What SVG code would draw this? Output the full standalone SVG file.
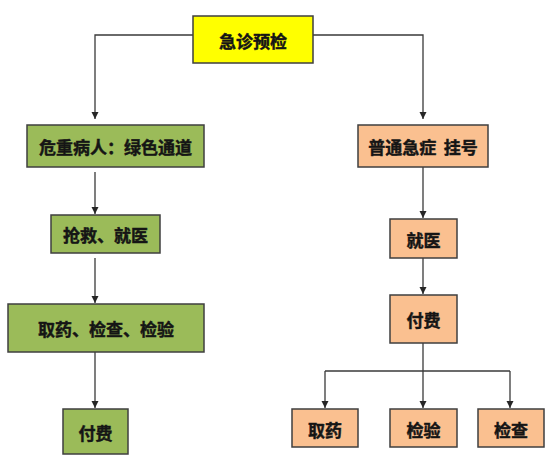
<svg xmlns="http://www.w3.org/2000/svg" width="550" height="464" viewBox="0 0 550 464">
<defs>
<marker id="arr" markerWidth="8" markerHeight="8" refX="7" refY="4" orient="auto" markerUnits="userSpaceOnUse">
<path d="M0,0.5 L7,4 L0,7.5 Z" fill="#262626"/>
</marker>
<style>
.box{stroke:#3f3f3f;stroke-width:1.5}
.y{fill:#ffff00}
.g{fill:#9bbb59}
.o{fill:#fac090}
.t{font-family:"Noto Sans CJK SC","Noto Sans CJK TC",sans-serif;font-weight:bold;font-size:17px;fill:#151515;stroke:#151515;stroke-width:0.45;text-anchor:middle;dominant-baseline:central}
.c{fill:none;stroke:#3a3a3a;stroke-width:1.3}
</style>
</defs>
<rect width="550" height="464" fill="#ffffff"/>
<g id="connectors">
<path class="c" d="M193,35 H95 V119" marker-end="url(#arr)"/>
<path class="c" d="M313,35 H423 V119" marker-end="url(#arr)"/>
<path class="c" d="M95,172 V214" marker-end="url(#arr)"/>
<path class="c" d="M95,258 V303" marker-end="url(#arr)"/>
<path class="c" d="M95,352 V408" marker-end="url(#arr)"/>
<path class="c" d="M423,167 V218" marker-end="url(#arr)"/>
<path class="c" d="M423,258 V294" marker-end="url(#arr)"/>
<path class="c" d="M423,343 V408" marker-end="url(#arr)"/>
<path class="c" d="M325,371 H510"/>
<path class="c" d="M325,371 V408" marker-end="url(#arr)"/>
<path class="c" d="M510,371 V408" marker-end="url(#arr)"/>
</g>
<g id="n-triage">
<rect class="box y" x="193" y="16" width="120" height="47"/>
<text class="t" x="253" y="40">急诊预检</text>
</g>
<g id="n-critical">
<rect class="box g" x="27" y="125" width="177" height="42"/>
<text class="t" x="115.5" y="146">危重病人：绿色通道</text>
</g>
<g id="n-rescue">
<rect class="box g" x="51" y="215" width="109" height="38"/>
<text class="t" x="105.5" y="234">抢救、就医</text>
</g>
<g id="n-tests">
<rect class="box g" x="8" y="304" width="196" height="48"/>
<text class="t" x="106" y="328">取药、检查、检验</text>
</g>
<g id="n-pay-left">
<rect class="box g" x="63" y="409" width="65" height="45"/>
<text class="t" x="95.5" y="432">付费</text>
</g>
<g id="n-register">
<rect class="box o" x="358" y="125" width="130" height="42"/>
<text class="t" x="423" y="146" xml:space="preserve">普通急症  挂号</text>
</g>
<g id="n-doctor">
<rect class="box o" x="390" y="219" width="67" height="39"/>
<text class="t" x="423.5" y="239">就医</text>
</g>
<g id="n-pay-right">
<rect class="box o" x="390" y="295" width="67" height="48"/>
<text class="t" x="423.5" y="319">付费</text>
</g>
<g id="n-medicine">
<rect class="box o" x="292" y="409" width="66" height="38"/>
<text class="t" x="325" y="429">取药</text>
</g>
<g id="n-lab">
<rect class="box o" x="390" y="409" width="67" height="38"/>
<text class="t" x="423.5" y="429">检验</text>
</g>
<g id="n-exam">
<rect class="box o" x="478" y="409" width="66" height="38"/>
<text class="t" x="511" y="429">检查</text>
</g>
</svg>
